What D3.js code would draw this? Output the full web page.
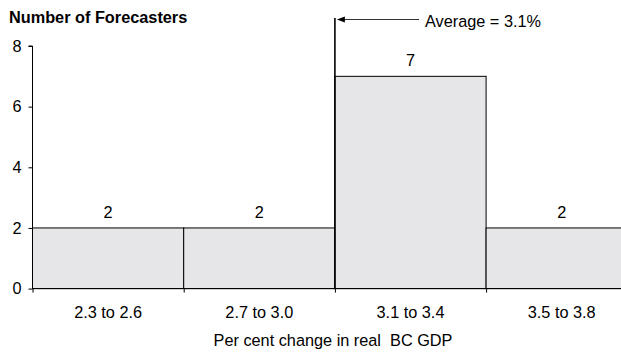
<!DOCTYPE html>
<html><head><meta charset="utf-8">
<script src="https://cdn.jsdelivr.net/npm/d3@7"></script>
<style>body{margin:0;background:#fff}svg{display:block;font-family:"Liberation Sans",Arial,sans-serif}</style>
</head><body><svg id="c" width="621" height="352"></svg>
<script>
const categories = ["2.3 to 2.6","2.7 to 3.0","3.1 to 3.4","3.5 to 3.8"];
const binStarts = [2.3, 2.7, 3.1, 3.5];
const binWidth = 0.4;
const counts = [2, 2, 7, 2];
const yTicks = [0, 2, 4, 6, 8];
const average = 3.1;
const averageLabel = "Average = 3.1%";
const yTitle = "Number of Forecasters";
const xTitle = "Per cent change in real  BC GDP";

const FS = 16.3;
const svg = d3.select("#c");
const x0 = 32.5, x1 = 637.3, yTop = 46, yBot = 288.6;
const x = d3.scaleLinear().domain([2.3, 3.9]).range([x0, x1]);
const y = d3.scaleLinear().domain([0, 8]).range([yBot, yTop]);

// bars
svg.append("g").selectAll("rect").data(counts).join("rect")
  .attr("x", (d,i) => x(binStarts[i]))
  .attr("width", x(binStarts[0]+binWidth) - x(binStarts[0]))
  .attr("y", d => y(d))
  .attr("height", d => y(0) - y(d))
  .attr("fill", "#e6e6e8")
  .attr("stroke", "#000")
  .attr("stroke-width", 1);

// value labels
svg.append("g").selectAll("text").data(counts).join("text")
  .attr("x", (d,i) => x(binStarts[i] + binWidth/2))
  .attr("y", d => y(d) - 10)
  .attr("text-anchor", "middle")
  .attr("font-size", FS)
  .attr("fill", "#000")
  .text(d => d);

// y axis
const yAxis = svg.append("g").attr("transform", `translate(${x0},0)`)
  .call(d3.axisLeft(y).tickValues(yTicks).tickSize(4).tickPadding(7).tickFormat(d3.format("d")));
yAxis.select(".domain").attr("d", `M0,${yBot}V${yTop}H-4`).attr("stroke","#000");
yAxis.selectAll("text").attr("font-size", FS).attr("fill","#000").attr("font-family","Liberation Sans, Arial, sans-serif");

// x axis (bin boundaries as ticks)
const xAxis = svg.append("g").attr("transform", `translate(0,${yBot})`)
  .call(d3.axisBottom(x).tickValues(binStarts.concat([3.9])).tickSize(4).tickFormat(""));
xAxis.select(".domain").attr("stroke","#000").attr("d", `M${x0},0H${x1}`);

// category labels
svg.append("g").selectAll("text").data(categories).join("text")
  .attr("x", (d,i) => x(binStarts[i] + binWidth/2))
  .attr("y", 318)
  .attr("text-anchor", "middle")
  .attr("font-size", FS)
  .attr("fill", "#000")
  .text(d => d);

// axis titles
svg.append("text").attr("x", 9).attr("y", 23).attr("font-size", FS)
  .attr("font-weight", "bold").attr("fill","#000").text(yTitle);
svg.append("text").attr("x", 333).attr("y", 346).attr("text-anchor","middle")
  .attr("font-size", FS).attr("fill","#000").style("white-space","pre").text(xTitle);

// average marker
const ax = x(average);
svg.append("line").attr("x1", ax).attr("x2", ax).attr("y1", 18).attr("y2", yBot)
  .attr("stroke", "#000").attr("stroke-width", 1.6);
const ay = 19.5;
svg.append("line").attr("x1", 419).attr("x2", ax + 8).attr("y1", ay).attr("y2", ay)
  .attr("stroke", "#333").attr("stroke-width", 1);
svg.append("path")
  .attr("d", `M${ax+2},${ay}L${ax+10},${ay-3}L${ax+10},${ay+3}Z`)
  .attr("fill", "#000");
svg.append("text").attr("x", 425).attr("y", 27).attr("font-size", FS)
  .attr("fill","#000").text(averageLabel);
</script></body></html>
